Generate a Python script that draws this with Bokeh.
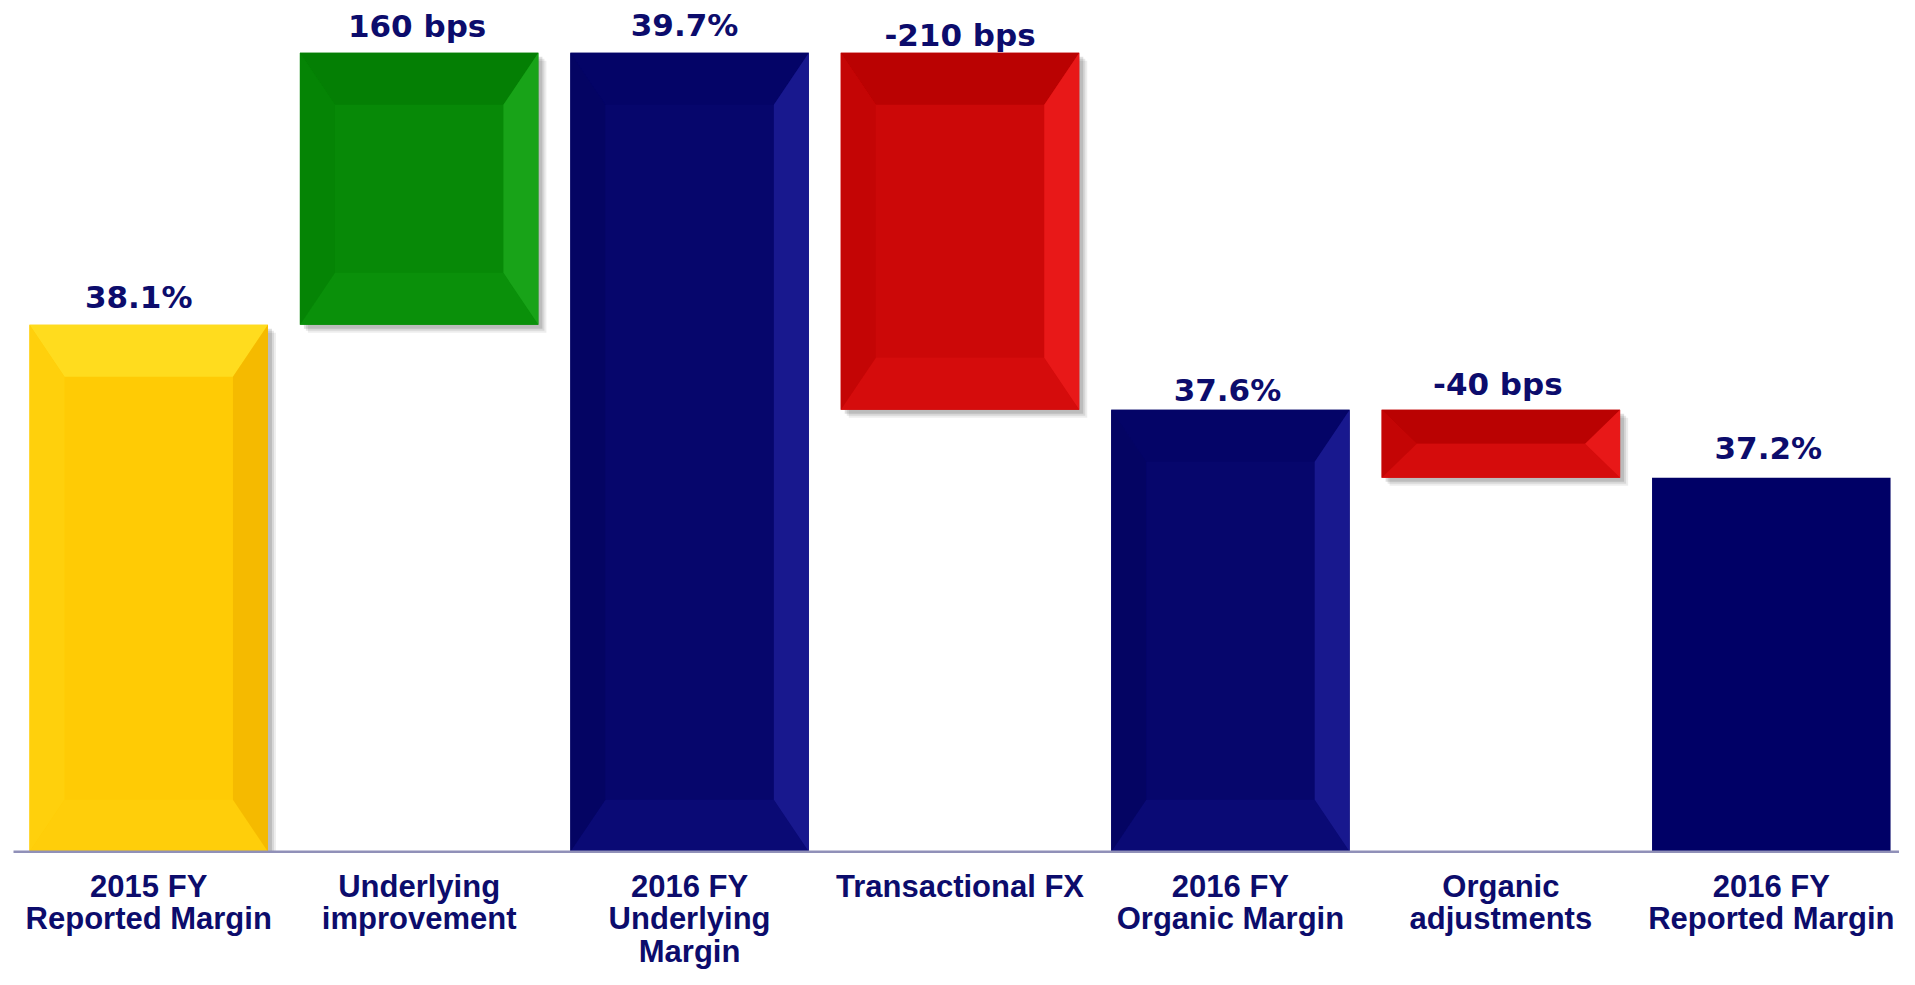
from bokeh.plotting import figure
from bokeh.models import Range1d, ColumnDataSource
from bokeh.core.properties import value
from bokeh.embed import file_html
from bokeh.resources import INLINE

# ---- data ----
categories = ["2015 FY\nReported Margin", "Underlying\nimprovement", "2016 FY\nUnderlying\nMargin",
              "Transactional FX", "2016 FY\nOrganic Margin", "Organic\nadjustments",
              "2016 FY\nReported Margin"]
values = [38.1, 1.6, 39.7, -2.1, 37.6, -0.4, 37.2]
kinds = ["total", "delta", "total", "delta", "total", "delta", "total"]
value_labels = ["38.1%", "160 bps", "39.7%", "-210 bps", "37.6%", "-40 bps", "37.2%"]

# ---- styling / layout ----
BASE = 35.0
W, H = 1899, 969
PX_X = 270.43          # pixels per category
PX_Y = 170.0           # pixels per percentage point
LEFT_PAD = 13          # pixels from figure left to first category edge
TOP_PAD = 52.3         # pixels from figure top to the highest bar
BAR_W = 0.882
TEXT_COLOR = "#0C0C6C"
AXIS_COLOR = "#9090B8"
label_gap_px = [28, 27, 28, 18, 20, 26, 30]     # gap between bar top and value label
label_shift_px = [-10, -2, -5, 0, -3, -3, -3]   # horizontal nudge of value labels

n = len(categories)
x_start = -0.5 - LEFT_PAD / PX_X
x_end = x_start + W / PX_X
y_end = max(values) + TOP_PAD / PX_Y
y_start = y_end - H / PX_Y

palette = {
    "yellow": dict(base="#FFCB05", top="#FFDC1E", left="#FFD00C", right="#F5BA00", bottom="#FFCE0A"),
    "green": dict(base="#078907", top="#047F04", left="#058405", right="#18A318", bottom="#0A900A"),
    "navy": dict(base="#06066C", top="#040467", left="#040463", right="#18188E", bottom="#0A0A75"),
    "red": dict(base="#CC0808", top="#BA0202", left="#C40505", right="#E81818", bottom="#D50C0C"),
    "flat": dict(base="#000066"),
}
styles = ["yellow", "green", "navy", "red", "navy", "red", "flat"]
shadowed = ["yellow", "green", "red"]

# ---- waterfall geometry ----
xs, bottoms, tops = [], [], []
running = 0.0
for i, (v, k) in enumerate(zip(values, kinds)):
    if k == "total":
        b, t = BASE, v
        running = v
    else:
        b, t = running, running + v
        running = running + v
    xs.append(i)
    bottoms.append(min(b, t))
    tops.append(max(b, t))

p = figure(width=W, height=H, x_range=Range1d(x_start, x_end), y_range=Range1d(y_start, y_end),
           output_backend="svg", toolbar_location=None, x_axis_location=None, y_axis_location=None,
           min_border=0)
p.outline_line_color = None
p.grid.visible = False
p.background_fill_color = "white"
p.border_fill_color = "white"

# shadows
for off, alpha in [(8, 0.07), (6, 0.09), (4, 0.12)]:
    dx, dy = off / PX_X, off / PX_Y
    for i in range(n):
        if styles[i] in shadowed:
            L, R = xs[i] - BAR_W / 2, xs[i] + BAR_W / 2
            p.quad(left=[L + dx], right=[R + dx], top=[tops[i] - dy],
                   bottom=[max(BASE, bottoms[i] - dy)],
                   fill_color="black", fill_alpha=alpha, line_color=None)

# bars
src = ColumnDataSource(dict(x=xs, top=tops, bottom=bottoms,
                            color=[palette[s]["base"] for s in styles],
                            label=value_labels,
                            label_x=[x + d / PX_X for x, d in zip(xs, label_shift_px)],
                            label_y=[t + g / PX_Y for t, g in zip(tops, label_gap_px)]))
p.vbar(x="x", width=BAR_W, top="top", bottom="bottom", fill_color="color", line_color=None, source=src)

# bevels
bx = 35 / PX_X
for i in range(n):
    s = styles[i]
    if s == "flat":
        continue
    c = palette[s]
    L, R = xs[i] - BAR_W / 2, xs[i] + BAR_W / 2
    T, B = tops[i], bottoms[i]
    by = min(52 / PX_Y, (T - B) / 2)
    p.patch([L, R, R - bx, L + bx], [T, T, T - by, T - by], fill_color=c["top"], line_color=None)
    p.patch([L, R, R - bx, L + bx], [B, B, B + by, B + by], fill_color=c["bottom"], line_color=None)
    p.patch([L, L + bx, L + bx, L], [T, T - by, B + by, B], fill_color=c["left"], line_color=None)
    p.patch([R, R - bx, R - bx, R], [T, T - by, B + by, B], fill_color=c["right"], line_color=None)

# axis line
p.segment(x0=[-0.5], x1=[n - 0.5], y0=[BASE], y1=[BASE], line_color=AXIS_COLOR, line_width=2.5)

# value labels
p.text(x="label_x", y="label_y", text="label", source=src, text_font=value("DejaVu Sans"),
       text_font_style="bold", text_font_size="31px", text_color=TEXT_COLOR,
       text_align="center", text_baseline="alphabetic")

# category labels
cat_src = ColumnDataSource(dict(x=xs, y=[BASE - 17 / PX_Y] * n, text=categories))
p.text(x="x", y="y", text="text", source=cat_src, text_align="center",
       text_baseline="top", text_font=value("Liberation Sans"), text_font_style="bold",
       text_font_size="31px", text_color=TEXT_COLOR, text_line_height=0.925)

open("out.html", "w").write(file_html(p, INLINE))
